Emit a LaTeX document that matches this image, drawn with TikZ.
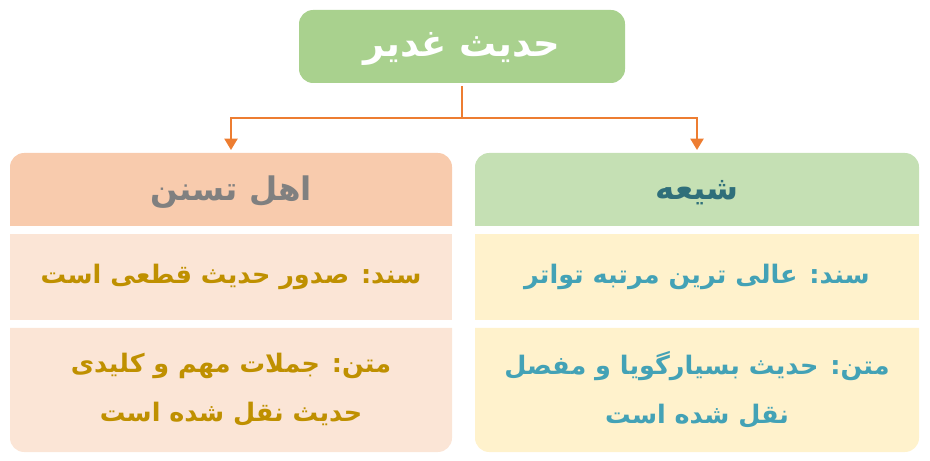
\documentclass[tikz,border=0pt]{standalone}
\usepackage{fontspec}
\newfontfamily\arabicfont[Script=Arabic]{DejaVu Sans}
\TeXXeTstate=1
\usetikzlibrary{arrows.meta,backgrounds}
\definecolor{topgreen}{HTML}{A9D18E}
\definecolor{sunnihead}{HTML}{F8CBAD}
\definecolor{sunnirow}{HTML}{FBE5D6}
\definecolor{sunnitext}{HTML}{BF9000}
\definecolor{shiahead}{HTML}{C5E0B4}
\definecolor{shiarow}{HTML}{FFF2CC}
\definecolor{shiatitle}{HTML}{2F6F7A}
\definecolor{shiatext}{HTML}{43A2B6}
\definecolor{linkorange}{HTML}{ED7D31}
\tikzset{
  cell/.style={align=center, font=\arabicfont\bfseries\fontsize{14.5}{28}\selectfont},
  headcell/.style={align=center, font=\arabicfont\bfseries\fontsize{18.5}{24}\selectfont},
  link/.style={draw=linkorange, line width=1.1pt},
}
\begin{document}
\begin{tikzpicture}
\useasboundingbox (0,0) rectangle (18.6,-9.22);

% Title and the two columns
\node[align=center, font=\arabicfont\bfseries\fontsize{21}{24}\selectfont, text=white] (hadith) at (9.24,-0.98) {\beginR حدیث غدیر\endR};
\node[headcell, text=gray] (sunni) at (4.62,-3.85) {\beginR اهل تسنن\endR};
\node[cell, text=sunnitext] (sunnisanad) at (4.62,-5.54) {\beginR سند: صدور حدیث قطعی است\endR};
\node[cell, text=sunnitext] (sunnimatn) at (4.62,-7.8) {\beginR متن: جملات مهم و کلیدی\endR\\ \beginR حدیث نقل شده است\endR};
\node[headcell, text=shiatitle] (shia) at (13.94,-3.85) {\beginR شیعه\endR};
\node[cell, text=shiatext] (shiasanad) at (13.94,-5.54) {\beginR سند: عالی ترین مرتبه تواتر\endR};
\node[cell, text=shiatext] (shiamatn) at (13.94,-7.8) {\beginR متن: حدیث بسیارگویا و مفصل\endR\\ \beginR نقل شده است\endR};

% Boxes behind the texts
\begin{scope}[on background layer]
\fill[topgreen, rounded corners=8pt] (5.98,-0.2) rectangle (12.5,-1.66);
\fill[sunnihead] (0.2,-4.52) [rounded corners=8pt] -- (0.2,-3.06) -- (9.04,-3.06) [sharp corners] -- (9.04,-4.52) -- cycle;
\fill[sunnirow] (0.2,-4.68) rectangle (9.04,-6.4);
\fill[sunnirow] (0.2,-6.56) [rounded corners=8pt] -- (0.2,-9.04) -- (9.04,-9.04) [sharp corners] -- (9.04,-6.56) -- cycle;
\fill[shiahead] (9.5,-4.52) [rounded corners=8pt] -- (9.5,-3.06) -- (18.38,-3.06) [sharp corners] -- (18.38,-4.52) -- cycle;
\fill[shiarow] (9.5,-4.68) rectangle (18.38,-6.4);
\fill[shiarow] (9.5,-6.56) [rounded corners=8pt] -- (9.5,-9.04) -- (18.38,-9.04) [sharp corners] -- (18.38,-6.56) -- cycle;
\end{scope}

% Connectors
\coordinate (split) at (9.24,-2.36);
\coordinate (hadithfoot) at (9.24,-1.72);
\coordinate (sunnitop) at (4.62,-3.0);
\coordinate (shiatop) at (13.94,-3.0);
\draw[link] (hadithfoot) -- (split);
\draw[link, -{Triangle[width=7.5pt,length=6.5pt]}] (split) -| (sunnitop);
\draw[link, -{Triangle[width=7.5pt,length=6.5pt]}] (split) -| (shiatop);
\end{tikzpicture}
\end{document}
